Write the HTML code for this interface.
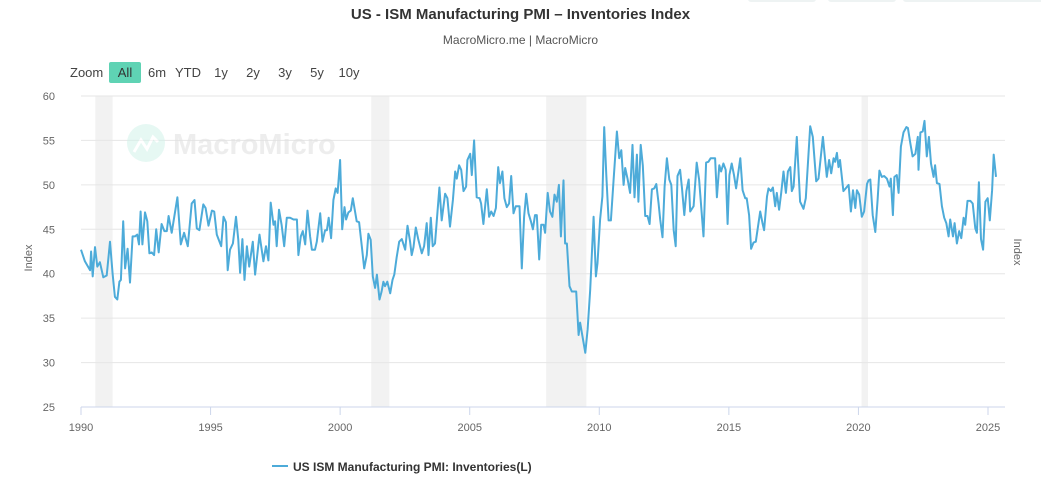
<!DOCTYPE html>
<html><head><meta charset="utf-8">
<style>
body{margin:0;background:#fff;font-family:"Liberation Sans",sans-serif;}
#wrap{position:relative;width:1041px;height:478px;overflow:hidden;}
.t{position:absolute;white-space:nowrap;}
</style></head>
<body>
<div id="wrap">
<div class="t" style="left:0;width:1041px;text-align:center;top:6px;font-size:15px;font-weight:bold;color:#333;">US - ISM Manufacturing PMI – Inventories Index</div>
<div class="t" style="left:0;width:1041px;text-align:center;top:33px;font-size:12px;color:#555;">MacroMicro.me | MacroMicro</div>
<svg id="svg" width="1041" height="478" style="position:absolute;left:0;top:0"></svg>
</div>
<script>
const years=[1990.00,1990.15,1990.35,1990.39,1990.45,1990.54,1990.63,1990.73,1990.86,1990.99,1991.12,1991.22,1991.31,1991.40,1991.48,1991.54,1991.63,1991.70,1991.80,1991.89,1991.99,1992.08,1992.17,1992.24,1992.30,1992.37,1992.47,1992.56,1992.64,1992.73,1992.82,1992.90,1993.00,1993.11,1993.22,1993.31,1993.38,1993.50,1993.72,1993.85,1993.98,1994.12,1994.27,1994.38,1994.47,1994.57,1994.72,1994.81,1994.92,1995.05,1995.14,1995.24,1995.41,1995.50,1995.59,1995.66,1995.75,1995.86,1995.98,1996.07,1996.14,1996.23,1996.31,1996.40,1996.49,1996.63,1996.72,1996.89,1997.04,1997.14,1997.23,1997.32,1997.43,1997.49,1997.55,1997.64,1997.74,1997.84,1997.94,1998.07,1998.20,1998.33,1998.39,1998.48,1998.56,1998.65,1998.74,1998.84,1998.91,1999.03,1999.10,1999.23,1999.32,1999.42,1999.49,1999.56,1999.65,1999.74,1999.83,1999.90,2000.00,2000.08,2000.17,2000.23,2000.32,2000.41,2000.49,2000.58,2000.64,2000.73,2000.84,2000.93,2001.03,2001.09,2001.18,2001.26,2001.35,2001.42,2001.52,
2001.60,2001.67,2001.73,2001.82,2001.93,2002.02,2002.09,2002.18,2002.28,2002.38,2002.51,2002.60,2002.70,2002.76,2002.83,2002.92,2003.02,2003.15,2003.24,2003.34,2003.41,2003.50,2003.57,2003.66,2003.83,2003.92,2004.05,2004.14,2004.24,2004.35,2004.44,2004.50,2004.59,2004.67,2004.76,2004.86,2004.91,2005.02,2005.08,2005.17,2005.27,2005.38,2005.44,2005.53,2005.66,2005.75,2005.83,2005.92,2006.01,2006.10,2006.17,2006.26,2006.34,2006.43,2006.52,2006.60,2006.69,2006.78,2006.92,2007.01,2007.10,2007.18,2007.27,2007.36,2007.44,2007.52,2007.59,2007.68,2007.76,2007.85,2007.91,2008.01,2008.10,2008.19,2008.27,2008.36,2008.44,2008.52,2008.62,2008.68,2008.75,2008.85,2008.94,2009.01,2009.11,2009.20,2009.26,2009.35,2009.46,2009.55,2009.65,2009.78,2009.87,2009.93,2010.03,2010.12,2010.19,2010.27,2010.36,2010.45,2010.55,2010.68,2010.77,2010.85,2010.94,2011.00,2011.09,2011.19,2011.28,2011.36,2011.45,2011.51,2011.60,2011.68,2011.77,2011.86,2011.94,2012.03,2012.12,2012.20,2012.29,2012.35,2012.44,2012.52,2012.61,2012.70,2012.78,2012.87,2012.95,2013.02,2013.12,2013.19,2013.28,2013.36,2013.45,2013.51,
2013.64,2013.76,2013.85,2014.02,2014.12,2014.21,2014.30,2014.41,2014.47,2014.54,2014.63,2014.70,2014.79,2014.88,2014.95,2015.02,2015.11,2015.20,2015.28,2015.44,2015.53,2015.63,2015.69,2015.78,2015.86,2015.95,2016.04,2016.21,2016.30,2016.36,2016.47,2016.53,2016.62,2016.70,2016.79,2016.85,2016.94,2017.02,2017.11,2017.20,2017.28,2017.37,2017.43,2017.50,2017.62,2017.75,2017.88,2017.97,2018.14,2018.24,2018.37,2018.46,2018.63,2018.78,2018.87,2018.95,2019.04,2019.10,2019.17,2019.23,2019.29,2019.42,2019.51,2019.62,2019.71,2019.79,2019.88,2019.94,2020.03,2020.13,2020.22,2020.33,2020.39,2020.46,2020.55,2020.65,2020.74,2020.81,2020.90,2020.99,2021.10,2021.20,2021.25,2021.33,2021.39,2021.48,2021.55,2021.64,2021.74,2021.85,2021.91,2022.00,2022.09,2022.20,2022.29,2022.32,2022.39,2022.48,2022.55,2022.64,2022.72,2022.80,2022.90,2022.96,2023.03,2023.13,2023.22,2023.31,2023.39,2023.48,2023.54,2023.65,2023.71,2023.80,2023.89,2023.97,2024.06,2024.12,2024.21,2024.32,2024.41,2024.51,2024.57,2024.65,2024.73,2024.81,2024.90,2024.99,2025.07,2025.16,2025.22,2025.31];
const values=[42.7,41.4,40.4,42.5,39.7,43.0,40.8,41.3,39.6,39.8,43.6,40.0,37.4,37.1,39.1,39.3,45.9,40.6,42.8,39.0,44.2,44.2,44.4,43.3,47.0,43.3,46.9,45.9,42.3,42.4,42.1,45.0,42.4,45.6,44.8,44.8,46.5,44.6,48.6,43.3,44.6,43.1,47.9,48.3,45.1,44.9,47.8,47.4,45.4,47.1,47.0,44.4,43.1,46.4,45.8,40.4,42.7,43.4,46.4,43.8,40.1,43.9,39.3,43.1,40.8,43.6,39.9,44.4,41.4,43.1,41.5,48.0,45.5,45.9,43.1,47.2,45.5,43.1,46.3,46.3,46.1,46.1,42.1,44.2,44.8,43.3,47.1,44.2,42.7,42.7,43.6,46.8,43.6,44.9,44.9,46.3,44.0,48.3,49.6,49.1,52.8,45.0,47.5,46.1,46.9,47.1,48.5,46.9,45.9,45.8,43.0,40.6,42.1,44.5,43.8,39.7,38.4,39.9,37.1,
38.0,39.1,38.6,39.1,37.8,39.3,39.9,41.8,43.6,43.9,42.7,45.4,43.6,42.1,43.0,45.2,43.8,42.3,43.1,45.7,42.1,46.3,43.1,43.4,49.7,46.0,49.0,48.5,45.3,48.3,51.5,50.7,52.2,51.7,49.3,49.8,52.8,53.5,51.1,55.0,48.6,48.5,47.9,45.6,49.5,46.4,47.0,46.5,47.4,52.0,50.2,51.5,48.5,47.5,47.9,51.0,46.8,47.6,47.6,40.6,46.4,49.0,46.8,45.9,45.0,46.6,46.6,41.6,45.5,45.5,44.6,49.1,47.0,46.4,48.9,48.1,50.0,44.2,50.5,43.4,43.4,38.6,38.0,38.0,38.0,33.1,34.5,33.0,31.1,33.7,38.2,46.4,39.7,41.2,46.1,48.7,56.5,51.1,46.0,46.0,50.4,56.0,53.0,53.9,50.0,51.9,50.7,49.1,54.5,48.6,53.4,48.1,54.5,52.2,46.5,46.5,45.6,49.5,49.6,50.1,47.9,46.1,44.1,49.8,53.0,50.6,50.0,44.9,43.1,51.0,51.7,49.6,46.6,49.3,50.6,47.0,
47.6,52.5,50.6,44.2,52.5,52.6,53.0,53.0,53.0,48.6,52.2,51.5,52.4,51.7,45.6,51.1,52.4,51.1,49.6,53.0,49.4,48.5,48.5,46.6,42.8,43.5,43.6,47.0,45.7,44.9,48.7,49.6,49.3,49.7,47.6,49.1,47.2,49.1,51.5,49.1,51.5,52.0,49.3,49.8,55.4,48.1,47.3,48.5,56.6,55.4,50.4,50.7,55.4,50.9,52.8,51.3,53.0,52.6,53.6,52.0,52.8,49.3,49.6,50.0,47.0,49.4,47.4,49.4,48.9,46.4,47.0,50.1,50.5,50.6,46.6,44.7,48.3,51.6,50.9,51.0,50.7,49.8,50.7,46.6,50.9,51.1,49.1,54.3,55.9,56.5,56.4,54.7,53.2,53.5,55.4,51.7,55.9,56.0,57.2,53.2,55.4,52.4,50.9,52.2,50.2,50.1,47.6,46.3,45.7,44.2,46.1,44.2,45.7,43.4,44.8,44.0,46.3,45.5,48.2,48.2,47.9,45.1,44.6,50.3,43.9,42.7,48.1,48.5,46.0,49.4,53.4,50.9];
const yTicks=[25,30,35,40,45,50,55,60];
const xTicks=[1990,1995,2000,2005,2010,2015,2020,2025];
const recStart=[1990.55,2001.2,2007.95,2020.12];
const recEnd=[1991.22,2001.9,2009.5,2020.37];
const zoomLabels=["1y","2y","3y","5y","10y"];

const NS="http://www.w3.org/2000/svg";
const svg=document.getElementById('svg');
const L=81,R=1005,T=96,B=407;
const X=y=>L+(y-1990)*(988-81)/35;
const Y=v=>B-(v-25)*(B-T)/35;
function el(tag,attrs,parent){const e=document.createElementNS(NS,tag);for(const k in attrs)e.setAttribute(k,attrs[k]);(parent||svg).appendChild(e);return e;}
function txt(s,attrs){const e=el('text',attrs);e.textContent=s;return e;}

// faint top-right buttons
[748,828,903,963].forEach((x,i)=>{const r=el('rect',{x:x,y:-6,width:i==3?80:68,height:8,rx:3,fill:'#eef3f3'});

});

recStart.forEach((s,i)=>{const r=el('rect',{x:X(s),y:T,width:X(recEnd[i])-X(s),height:B-T,fill:'#f2f2f2'});

});

yTicks.forEach(v=>{const l=el('line',{x1:L,x2:R,y1:Y(v),y2:Y(v),stroke:v==25?'#ccd6eb':'#e6e6e6','stroke-width':1});


const t=txt(String(v),{x:55,y:Y(v)+4,'text-anchor':'end','font-size':11,fill:'#666','font-family':'Liberation Sans'});

});

xTicks.forEach(v=>{const l=el('line',{x1:X(v),x2:X(v),y1:B,y2:B+8,stroke:'#ccd6eb'});


const t=txt(String(v),{x:X(v),y:431,'text-anchor':'middle','font-size':11,fill:'#666','font-family':'Liberation Sans'});

});

// watermark
const wm=el('g',{opacity:0.55});


el('circle',{cx:146,cy:143,r:19,fill:'#d2f3ea'},wm);
el('polyline',{points:'134,152 141,140 147,149 153,137 158,142',fill:'none',stroke:'#fff','stroke-width':3},wm);
const wt=el('text',{x:173,y:154,'font-size':29,'font-weight':'bold',fill:'#e0e0e0','font-family':'Liberation Sans'},wm);wt.textContent='MacroMicro';

let d='';years.forEach((y,i)=>{d+=(i?'L':'M')+X(y).toFixed(1)+','+Y(values[i]).toFixed(1);});
const p=el('path',{d:d,fill:'none',stroke:'#4dabd9','stroke-width':2,'stroke-linejoin':'round'});



const yl=txt('Index',{x:0,y:0,transform:'translate(32,258) rotate(-90)','text-anchor':'middle','font-size':11,fill:'#666','font-family':'Liberation Sans'});


const yr=txt('Index',{x:0,y:0,transform:'translate(1014,252) rotate(90)','text-anchor':'middle','font-size':11,fill:'#666','font-family':'Liberation Sans'});



// zoom controls
const zl=txt('Zoom',{x:70,y:77,'font-size':13,fill:'#444','font-family':'Liberation Sans'});


const ab=el('rect',{x:109,y:62,width:32,height:21,rx:2,fill:'#5fd3b4'});


txt('All',{x:125,y:77,'text-anchor':'middle','font-size':13,fill:'#333','font-family':'Liberation Sans'});
[["6m",157],["YTD",188],["1y",221],["2y",253],["3y",285],["5y",317],["10y",349]].forEach(a=>{
const t=txt(a[0],{x:a[1],y:77,'text-anchor':'middle','font-size':13,fill:'#444','font-family':'Liberation Sans'});

});

// legend
const lg=el('g',{});


el('line',{x1:272,x2:288,y1:466,y2:466,stroke:'#4dabd9','stroke-width':2},lg);
const lt=el('text',{x:293,y:471,'font-size':12,'font-weight':'bold',fill:'#333','font-family':'Liberation Sans'},lg);lt.textContent='US ISM Manufacturing PMI: Inventories(L)';
</script>
</body></html>
